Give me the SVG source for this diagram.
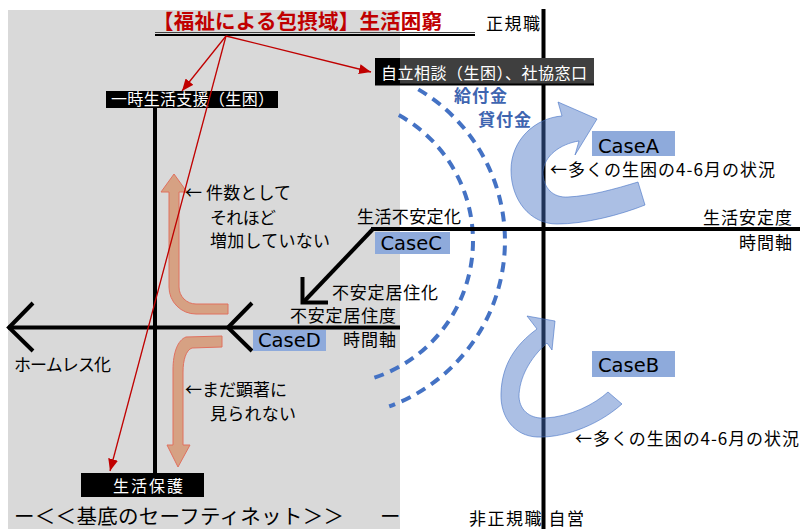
<svg xmlns="http://www.w3.org/2000/svg" width="800" height="529" viewBox="0 0 800 529">
<defs>
<style>
text { font-family: "Noto Sans CJK JP", "Noto Sans", sans-serif; fill:#000; }
.j { font-size:17px; }
.w { fill:#fff; font-size:16px; }
.case { font-family: "DejaVu Sans", "Noto Sans", sans-serif; font-size:19.5px; }
.caseBox { fill:#8eaadb; }
.axis { stroke:#000; stroke-width:4; fill:none; }
.red { stroke:#c00000; stroke-width:1.3; fill:none; marker-end:url(#rh); }
.dash { stroke:#4472c4; stroke-width:4; fill:none; stroke-dasharray:10 7; }
.blueArrow { fill:#4472c4; fill-opacity:0.45; stroke:#4472c4; stroke-opacity:0.6; stroke-width:1; }
.orange { fill:#d6a183; stroke:#e0705f; stroke-width:1; }
.blueTxt { fill:#3e65b0; font-size:17px; font-weight:bold; }
</style>
<marker id="rh" viewBox="0 0 12 10" refX="12" refY="5" markerWidth="12" markerHeight="10" markerUnits="userSpaceOnUse" orient="auto">
<path d="M0,0 L12,5 L0,10 z" fill="#c00000"/>
</marker>
</defs>

<rect x="0" y="0" width="800" height="529" fill="#fff"/>
<rect id="welfare-area" x="8" y="10" width="392" height="519" fill="#d9d9d9"/>

<!-- dashed support arcs -->
<g id="support-arcs">
<path class="dash" d="M398.8,115.1 A144,144 0 0 1 373.5,378"/>
<path class="dash" d="M418.3,89.4 A176,176 0 0 1 389.2,406.4"/>
</g>

<!-- axes -->
<g id="axes">
<line class="axis" x1="543.5" y1="9" x2="543.5" y2="529"/>
<line class="axis" x1="371" y1="229" x2="800" y2="229"/>
<path class="axis" d="M373,229 L303,302.5"/>
<path class="axis" d="M302.5,277 L302.5,302.5 L328,302.5"/>
<line class="axis" x1="8" y1="327.5" x2="400" y2="327.5"/>
<path class="axis" d="M33,303 L9,327.5 L33,351"/>
<path class="axis" d="M252,303 L228,327.5 L252,351"/>
<line class="axis" x1="155" y1="106" x2="155" y2="474"/>
</g>

<!-- title -->
<g id="title">
<text x="153" y="29" font-size="20.5" font-weight="bold" style="fill:#c00000" textLength="289" lengthAdjust="spacing">【福祉による包摂域】生活困窮</text>
<line x1="155" y1="32.5" x2="475" y2="32.5" stroke="#404040" stroke-width="1"/>
<line x1="155" y1="35" x2="475" y2="35" stroke="#000" stroke-width="2"/>
</g>

<g id="label-seiki"><text class="j" x="486" y="30" font-size="17.5" textLength="54" lengthAdjust="spacing">正規職</text></g>

<g id="node-ichiji">
<rect x="106" y="91" width="172" height="17" fill="#000"/>
<text class="w" x="111" y="105" font-size="15.5" textLength="163" lengthAdjust="spacing">一時生活支援（生困）</text>
</g>

<g id="node-jiritsu">
<rect x="375" y="58" width="219" height="27" fill="#3f3f3f"/>
<rect x="375" y="58" width="25" height="27" fill="#000"/>
<line x1="375" y1="84.5" x2="594" y2="84.5" stroke="#000" stroke-width="2"/>
<text class="w" x="381" y="79" font-size="17" textLength="206" lengthAdjust="spacing">自立相談（生困）、社協窓口</text>
</g>

<g id="label-kyufu"><text class="blueTxt" x="454" y="102" textLength="53" lengthAdjust="spacing">給付金</text></g>
<g id="label-kashitsuke"><text class="blueTxt" x="478" y="126" textLength="53" lengthAdjust="spacing">貸付金</text></g>

<!-- Case A -->
<g id="caseA">
<path class="blueArrow" d="M638,182 L645,205 C620,215 585,224 557,224 C530,224 511,200 511,170 C511,140 535,118 562,116 L558,102 L597,119 L575,155 L579,141 C560,144 544,156 543,172 C543,188 553,198 568,197 C590,196 615,189 638,182 Z"/>
<rect class="caseBox" x="592" y="131" width="83" height="25"/>
<text class="case" x="598" y="152.5">CaseA</text>
<text class="j" x="550" y="176" textLength="225" lengthAdjust="spacing">←多くの生困の4-6月の状況</text>
</g>

<!-- Case B -->
<g id="caseB">
<path class="blueArrow" d="M608,392 L622,404 C595,428 560,438 537,437 C515,436 500,418 501,393 C502,365 515,345 537,329 L527,316 L555,321 L552,350 L547,343 C530,358 519,378 519,397 C520,412 532,419 545,418 C570,417 595,404 608,392 Z"/>
<rect class="caseBox" x="592" y="351" width="83" height="26"/>
<text class="case" x="598" y="371.5">CaseB</text>
<text class="j" x="575" y="445" textLength="224" lengthAdjust="spacing">←多くの生困の4-6月の状況</text>
</g>

<!-- Case C -->
<g id="caseC">
<text class="j" x="357" y="223" font-size="17.5" textLength="104" lengthAdjust="spacing">生活不安定化</text>
<rect class="caseBox" x="375" y="232" width="75" height="22"/>
<text class="case" x="380.5" y="249.5">CaseC</text>
</g>

<g id="label-antei">
<text class="j" x="703" y="224" font-size="17.5" textLength="89" lengthAdjust="spacing">生活安定度</text>
<text class="j" x="739" y="249" font-size="17.5" textLength="53" lengthAdjust="spacing">時間軸</text>
</g>

<g id="label-kyoju">
<text class="j" x="332" y="299" textLength="106" lengthAdjust="spacing">不安定居住化</text>
<text class="j" x="290" y="322" textLength="106" lengthAdjust="spacing">不安定居住度</text>
<text class="j" x="343" y="346" textLength="53" lengthAdjust="spacing">時間軸</text>
</g>

<!-- Case D -->
<g id="caseD">
<rect class="caseBox" x="253" y="330" width="73" height="21"/>
<text class="case" x="258" y="347">CaseD</text>
</g>

<g id="label-homeless"><text class="j" x="14" y="371" font-size="16" textLength="97" lengthAdjust="spacing">ホームレス化</text></g>

<!-- orange arrows -->
<g id="arrow-up">
<path class="orange" d="M228,304 L196,304 A17,17 0 0 1 179,287 L179,192 L187,192 L174,174 L161,192 L169,192 L169,287 A27,27 0 0 0 196,314 L228,314 Z"/>
<text class="j" x="185" y="199" font-size="16.5" textLength="106" lengthAdjust="spacing">← 件数として</text>
<text class="j" x="210" y="224" font-size="16.5" textLength="66" lengthAdjust="spacing">それほど</text>
<text class="j" x="210" y="247" font-size="16.5" textLength="120" lengthAdjust="spacing">増加していない</text>
</g>

<g id="arrow-down">
<path class="orange" d="M222,336 L186,337 C178,340 173,352 173,370 L173,445 L167,445 L178,467 L190,445 L183,445 L183,372 C183,360 186,350 192,348 L222,347 Z"/>
<text class="j" x="185" y="396" font-size="16" textLength="102" lengthAdjust="spacing">←まだ顕著に</text>
<text class="j" x="210" y="420" font-size="16" textLength="86" lengthAdjust="spacing">見られない</text>
</g>

<g id="node-seiho">
<rect x="81" y="473" width="123" height="24" fill="#000"/>
<text class="w" x="113" y="492" font-size="17" textLength="70" lengthAdjust="spacing">生活保護</text>
</g>

<g id="label-safetynet">
<text x="14" y="524" font-size="20.5" textLength="330" lengthAdjust="spacing">ー＜＜基底のセーフティネット＞＞</text>
<text x="380" y="524" font-size="20.5">ー</text>
</g>

<g id="label-hiseiki"><text class="j" x="469" y="525" font-size="17.5" textLength="115" lengthAdjust="spacing">非正規職 自営</text></g>

<!-- connectors -->
<g id="connectors">
<line class="red" x1="226" y1="36" x2="182" y2="91"/>
<line class="red" x1="226" y1="36" x2="371" y2="72"/>
<line class="red" x1="226" y1="36" x2="110" y2="471"/>
</g>
</svg>
